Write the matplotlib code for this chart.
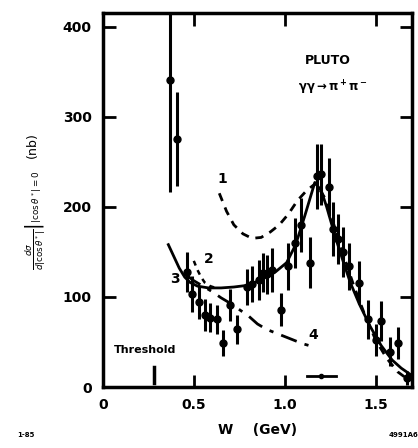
import numpy as np
import matplotlib.pyplot as plt

# PLUTO gamma gamma -> pi+ pi- data
w = [0.37, 0.41, 0.46, 0.49, 0.53, 0.56, 0.59, 0.63, 0.66, 0.70, 0.74,
     0.79, 0.82, 0.86, 0.88, 0.90, 0.93, 0.98, 1.02, 1.055, 1.09, 1.14,
     1.175, 1.20, 1.245, 1.265, 1.29, 1.32, 1.355, 1.41, 1.455, 1.50,
     1.53, 1.58, 1.62, 1.67]
sig = [341, 275, 128, 103, 94, 80, 77, 75, 49, 91, 64,
       111, 114, 119, 127, 125, 130, 86, 134, 160, 180, 138,
       234, 236, 222, 175, 164, 150, 134, 116, 75, 52,
       73, 39, 49, 10]
err = [125, 52, 22, 20, 18, 18, 16, 16, 14, 18, 16,
       20, 20, 22, 22, 22, 24, 18, 26, 28, 30, 28,
       36, 34, 32, 30, 28, 28, 26, 24, 22, 18,
       22, 16, 18, 8]

# model curves
c1_w = [0.64, 0.68, 0.72, 0.77, 0.82, 0.87, 0.92, 0.97, 1.02, 1.07, 1.12, 1.17,
        1.22, 1.27, 1.32, 1.38, 1.44, 1.50, 1.56, 1.62, 1.68]
c1_s = [215, 195, 180, 170, 165, 166, 172, 180, 192, 207, 218, 226,
        210, 180, 148, 112, 80, 52, 32, 17, 8]

c3_w = [0.36, 0.39, 0.42, 0.45, 0.48, 0.52, 0.58, 0.65, 0.72, 0.80, 0.88,
        0.95, 1.01, 1.06, 1.11, 1.165, 1.20, 1.23, 1.28, 1.32, 1.36, 1.41,
        1.47, 1.53, 1.59, 1.64, 1.69]
c3_s = [158, 145, 132, 122, 116, 112, 110, 110, 111, 113, 120,
        128, 138, 158, 190, 227, 218, 200, 165, 140, 116, 92,
        67, 46, 30, 21, 14]

c2_w = [0.50, 0.52, 0.54, 0.56, 0.59, 0.62]
c2_s = [140, 130, 122, 116, 112, 110]

c4_w = [0.46, 0.50, 0.55, 0.60, 0.65, 0.70, 0.75, 0.80, 0.85, 0.90, 0.95,
        1.00, 1.05, 1.10, 1.17]
c4_s = [124, 118, 112, 106, 99, 93, 86, 79, 70, 64, 60, 56, 52, 48, 44]

fig = plt.figure(figsize=(4.18, 4.48), dpi=100)
ax = fig.add_axes([0.246, 0.136, 0.740, 0.835])

ax.plot(c1_w, c1_s, color='k', lw=2, ls=(0, (3, 2.5)))
ax.plot(c3_w, c3_s, color='k', lw=2)
ax.plot(c2_w, c2_s, color='k', lw=1.8, ls=(0, (2, 2)))
ax.plot(c4_w, c4_s, color='k', lw=2, ls=(0, (6, 3, 1.5, 3)))

ax.errorbar(w, sig, yerr=err, fmt='o', color='k', ms=5, elinewidth=2.2,
            capsize=0)

# threshold mark and small arrow near the bottom
ax.plot([0.279, 0.279], [4, 22], color='k', lw=2.5)
ax.plot([1.12, 1.28], [12, 12], color='k', lw=2)
ax.plot([1.20], [12], 'o', color='k', ms=3)

ax.text(0.06, 38, 'Threshold', fontsize=8, fontweight='bold')
ax.text(0.63, 226, '1', fontsize=10, fontweight='bold')
ax.text(0.555, 138, '2', fontsize=10, fontweight='bold')
ax.text(0.37, 115, '3', fontsize=10, fontweight='bold')
ax.text(1.13, 53, '4', fontsize=10, fontweight='bold')
ax.text(1.11, 358, 'PLUTO', fontsize=9, fontweight='bold')
ax.text(1.07, 328, r'$\mathbf{\gamma\gamma\rightarrow\pi^+\pi^-}$', fontsize=8.5)

ax.set_xlim(0, 1.7)
ax.set_ylim(0, 415)
ax.set_xticks([0, 0.5, 1.0, 1.5])
ax.set_xticklabels(['0', '0.5', '1.0', '1.5'])
ax.set_yticks([0, 100, 200, 300, 400])
ax.tick_params(direction='in', length=9, width=2, top=True, right=True,
               labelsize=10, pad=8)
for lab in ax.get_xticklabels() + ax.get_yticklabels():
    lab.set_fontweight('bold')
for sp in ax.spines.values():
    sp.set_linewidth(2.5)

ax.set_xlabel('W    (GeV)', fontsize=10, fontweight='bold', labelpad=8)
fig.text(0.085, 0.55,
         r'$\left.\frac{d\sigma}{d|\cos\theta^*|}\right|_{|\cos\theta^*|=0}$   (nb)',
         rotation=90, fontsize=9, ha='center', va='center')

fig.text(0.04, 0.025, '1-85', fontsize=5, fontweight='bold')
fig.text(0.93, 0.025, '4991A6', fontsize=5, fontweight='bold')

fig.savefig('out.png', dpi=100)
